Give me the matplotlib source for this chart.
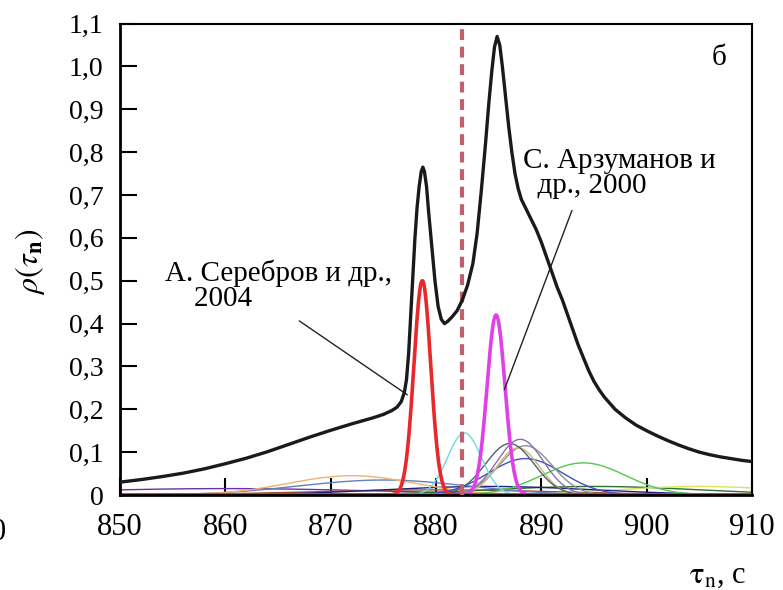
import numpy as np
import matplotlib
matplotlib.use('Agg')
from matplotlib import pyplot as plt

plt.rcParams['font.family'] = ['Liberation Serif', 'DejaVu Serif']
plt.rcParams['mathtext.fontset'] = 'stix'

# total density (black curve)
tau_sum = [850, 852, 854, 856, 858, 860, 862, 864, 866, 868, 870, 872, 874, 875, 875.8,
           876.3, 876.7, 877.0, 877.2, 877.4, 877.6, 877.8, 878.0, 878.2, 878.4, 878.6,
           878.75, 878.9, 879.1, 879.3, 879.6, 879.9, 880.2, 880.5, 880.8, 881.1, 881.5,
           882.0, 882.5, 883.0, 883.5, 883.9, 884.3, 884.7, 885.0, 885.3, 885.55, 885.8,
           886.05, 886.3, 886.6, 886.9, 887.2, 887.5, 887.8, 888.1, 888.5, 889, 889.5,
           890, 890.5, 891, 891.5, 892, 892.5, 893, 893.5, 894, 894.5, 895, 895.5, 896,
           897, 898, 899, 900, 901, 902, 903, 904, 905, 906, 907, 908, 909, 910]
rho_sum = [0.030, 0.036, 0.043, 0.051, 0.061, 0.073, 0.086, 0.101, 0.118, 0.135, 0.151,
           0.166, 0.180, 0.188, 0.197, 0.205, 0.218, 0.240, 0.27, 0.33, 0.42, 0.51, 0.60,
           0.67, 0.72, 0.755, 0.765, 0.755, 0.72, 0.66, 0.58, 0.50, 0.44, 0.41, 0.40,
           0.405, 0.415, 0.43, 0.455, 0.49, 0.54, 0.61, 0.71, 0.82, 0.91, 0.99, 1.045,
           1.07, 1.05, 1.0, 0.93, 0.86, 0.80, 0.75, 0.715, 0.69, 0.67, 0.645, 0.62, 0.59,
           0.555, 0.52, 0.485, 0.455, 0.42, 0.385, 0.35, 0.32, 0.29, 0.265, 0.245, 0.228,
           0.20, 0.18, 0.163, 0.150, 0.138, 0.127, 0.117, 0.108, 0.100, 0.094, 0.089,
           0.085, 0.081, 0.078]

# individual measurements: centre, width, peak height
centres = [860, 880, 895, 905, 885, 875, 872, 894, 888.5, 888.5, 887.8, 887.0, 888.0, 882.7, 885.7, 878.7]
widths = [15, 12, 10, 8, 10, 8, 6.0, 4.0, 3.5, 2.5, 2.0, 2.3, 2.2, 1.6, 0.85, 0.8]
heights = [0.015, 0.012, 0.02, 0.02, 0.02, 0.035, 0.045, 0.075, 0.085, 0.115, 0.11, 0.12, 0.13, 0.145, 0.42, 0.50]
colors = ['#7030a0', '#a05030', '#307030', '#e0e060', '#202080', '#6080c0', '#f0b070', '#50c850',
          '#4050c0', '#909090', '#c8b870', '#506070', '#8a70a8', '#6fd8e0', '#e040e8', '#e8282b']

tau_mean = 882.5

fig = plt.figure(figsize=(7.83, 5.90), dpi=100)
ax = fig.add_axes([0.1533, 0.161, 0.8071, 0.799])

t = np.linspace(850, 910, 1200)
for c, w, h, col in zip(centres, widths, heights, colors):
    lw = 2.6 if h > 0.3 else 1.0
    ax.plot(t, h * np.exp(-0.5 * ((t - c) / w) ** 2), color=col, lw=lw, zorder=2)

ax.axvline(tau_mean, color='#c0606a', lw=3, dashes=(2.6, 1.6), zorder=3)
ax.plot(tau_sum, rho_sum, color='#1a1a1a', lw=2.4, zorder=4, solid_joinstyle='round')

ax.annotate('', xy=(877.5, 0.23), xytext=(866.8, 0.41),
            arrowprops=dict(arrowstyle='-', color='#222222', lw=1))
ax.text(854.3, 0.488, 'А. Серебров и др.,\n    2004', fontsize=21, va='center', linespacing=0.95)
ax.annotate('', xy=(886.4, 0.24), xytext=(893.0, 0.67),
            arrowprops=dict(arrowstyle='-', color='#222222', lw=1))
ax.text(888.3, 0.75, 'С. Арзуманов и\n  др., 2000', fontsize=21, va='center', linespacing=0.95)
ax.text(906.2, 1.02, 'б', fontsize=21, va='center')

ax.set_xlim(850, 910)
ax.set_ylim(0, 1.1)
ax.set_xticks(np.arange(850, 911, 10))
ax.set_yticks(np.round(np.arange(0, 1.11, 0.1), 1))
ax.set_yticklabels(['0'] + [f'{v:.1f}'.replace('.', ',') for v in np.arange(0.1, 1.11, 0.1)])
ax.tick_params(direction='in', length=12.5, width=1.5, top=False, right=False)
ax.tick_params(axis='x', labelsize=22, pad=13)
ax.tick_params(axis='y', labelsize=20, pad=12)
for s in ['left', 'bottom']:
    ax.spines[s].set_linewidth(2)
for s in ['top', 'right']:
    ax.spines[s].set_linewidth(1.5)

fig.text(0.038, 0.556, r'$\rho(\tau_\mathbf{n})$', rotation=90, fontsize=23, ha='center', va='center')
fig.text(0.916, 0.025, r'$\mathrm{\tau}_\mathrm{n}$, с', fontsize=22, ha='center', va='center')
fig.text(0.008, 0.098, '0', fontsize=22, ha='right', va='center')

fig.savefig('out.png', dpi=100)
